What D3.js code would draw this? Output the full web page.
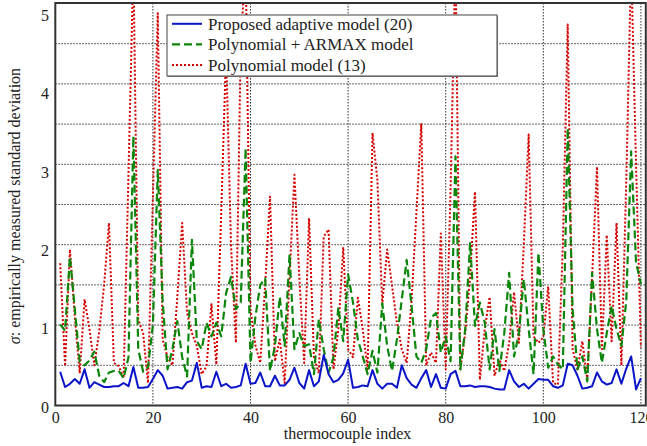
<!DOCTYPE html>
<html><head><meta charset="utf-8">
<script src="https://cdn.jsdelivr.net/npm/d3@7"></script>
<style>
html,body{margin:0;padding:0;background:#fff;}
svg{display:block;}
</style></head>
<body>
<svg id="chart" width="647" height="446"></svg>
<script>
const xTicks = [0, 20, 40, 60, 80, 100, 120];
const yTicks = [0, 1, 2, 3, 4, 5];
const yGrid = [0.5, 1, 1.5, 2, 2.5, 3, 3.5, 4, 4.5];
const seriesNames = ["Proposed adaptive model (20)", "Polynomial + ARMAX model", "Polynomial model (13)"];

const adaptive = [0.42,0.23,0.27,0.33,0.27,0.45,0.22,0.29,0.26,0.23,
0.23,0.24,0.24,0.28,0.24,0.48,0.22,0.22,0.23,0.33,
0.44,0.37,0.21,0.22,0.23,0.21,0.29,0.31,0.53,0.22,
0.24,0.23,0.42,0.24,0.27,0.22,0.23,0.25,0.52,0.27,
0.28,0.41,0.24,0.24,0.37,0.25,0.25,0.32,0.47,0.28,
0.21,0.44,0.24,0.30,0.63,0.39,0.29,0.32,0.40,0.57,
0.22,0.23,0.25,0.24,0.44,0.27,0.21,0.27,0.27,0.22,
0.50,0.34,0.26,0.22,0.34,0.44,0.23,0.39,0.22,0.21,
0.39,0.43,0.24,0.24,0.25,0.23,0.24,0.24,0.23,0.21,
0.20,0.20,0.44,0.30,0.23,0.27,0.21,0.27,0.33,0.32,
0.32,0.24,0.22,0.25,0.52,0.50,0.37,0.21,0.22,0.24,
0.41,0.30,0.26,0.28,0.45,0.27,0.46,0.61,0.20,0.34];

const armax = [1.01,0.93,1.85,1.2,0.55,0.5,0.56,0.67,0.37,0.29,
0.41,0.43,0.43,0.34,0.6,3.35,0.7,0.42,0.48,1.0,
2.93,1.3,0.45,0.7,1.05,0.6,0.36,2.06,0.8,0.7,
1.03,0.86,1.03,0.86,1.4,1.6,1.2,1.28,3.2,0.53,
1.1,1.5,1.58,0.43,0.74,1.35,0.74,1.88,0.70,0.9,
0.74,0.76,0.39,1.07,0.70,0.41,0.6,1.22,0.8,1.63,
1.28,0.82,0.61,0.39,0.68,0.41,1.27,0.74,0.43,0.82,
1.32,1.81,1.24,0.61,0.53,0.70,1.09,1.15,0.66,0.86,
0.55,3.1,0.45,0.95,2.02,0.99,1.28,1.03,0.45,0.95,
0.43,0.9,1.65,0.61,0.9,1.57,0.95,0.39,1.9,0.95,
0.47,0.61,0.51,0.45,3.45,1.2,0.45,0.61,0.30,1.65,
0.95,0.53,0.9,1.24,0.95,0.74,1.3,3.16,1.78,1.51];

const poly = [1.77,0.49,1.94,1.1,0.4,1.32,0.95,0.5,0.92,1.5,
2.27,0.53,0.49,0.34,2.9,5.5,1.07,0.9,0.28,2.6,
4.88,0.82,0.6,0.5,1.35,2.27,1.15,0.9,0.74,0.39,
0.49,1.26,0.51,2.4,4.4,2.0,0.78,4.5,5.5,1.2,
0.75,0.53,1.5,2.6,0.55,0.82,0.28,1.6,2.87,1.6,
0.53,2.33,0.6,0.4,2.1,2.19,0.45,0.95,1.97,0.7,
0.6,1.34,0.95,0.45,3.39,2.8,1.26,1.94,1.49,1.03,
0.70,0.53,1.3,2.4,3.51,0.5,0.66,0.53,2.14,0.45,
2.7,5.6,0.45,0.9,1.6,2.66,0.32,0.95,1.35,0.37,
0.57,0.43,0.78,1.41,0.78,2.0,3.37,0.86,0.78,0.85,
1.48,0.28,0.26,2.0,4.74,0.7,0.45,0.8,0.32,1.6,
2.97,0.7,2.12,0.8,2.27,0.5,2.8,5.5,3.0,0.72];

const FONT = "'Liberation Serif', 'DejaVu Serif', serif";
const svg = d3.select("#chart");
const L = 55.3, R = 645.8, T = 3, B = 405.5;
const x = d3.scaleLinear().domain([0, 121]).range([L, R]);
const y = d3.scaleLinear().domain([0, 5]).range([B, T + 0.5]);
const yLab = d3.scaleLinear().domain([0, 5]).range([407, 15.5]);

svg.append("rect").attr("x",0).attr("y",0).attr("width",647).attr("height",446).attr("fill","#fff");

const grid = svg.append("g").attr("stroke","#333").attr("stroke-width",1).attr("stroke-dasharray","1.5,1.5");
grid.selectAll("line.gx").data(xTicks.filter(d=>d>0)).join("line")
  .attr("x1",d=>x(d)).attr("x2",d=>x(d)).attr("y1",T).attr("y2",B);
grid.selectAll("line.gy").data(yGrid).join("line")
  .attr("x1",L).attr("x2",R).attr("y1",d=>y(d)).attr("y2",d=>y(d));

svg.append("clipPath").attr("id","clip").append("rect")
  .attr("x",L).attr("y",T).attr("width",R-L).attr("height",B-T);

const line = d3.line().x((d,i)=>x(i+1)).y(d=>y(d));
const plot = svg.append("g").attr("clip-path","url(#clip)");
const styles = [
  {data: adaptive, color:"#0a14c8", dash:null, w:2},
  {data: armax, color:"#0a870a", dash:"8,4", w:2.2},
  {data: poly, color:"#d40000", dash:"2,2", w:2}
];
[styles[2], styles[1], styles[0]].forEach(s=>{
  plot.append("path").datum(s.data).attr("d",line)
    .attr("fill","none").attr("stroke",s.color).attr("stroke-width",s.w)
    .attr("stroke-dasharray",s.dash).attr("stroke-linejoin","round");
});

svg.append("rect").attr("x",L).attr("y",T).attr("width",R-L).attr("height",B-T)
  .attr("fill","none").attr("stroke","#333").attr("stroke-width",2);

const xAxis = d3.axisBottom(x).tickValues(xTicks).tickFormat(d3.format("d")).tickSize(0).tickPadding(6);
const gx = svg.append("g").attr("transform",`translate(0,${B})`).call(xAxis);
gx.select(".domain").remove();

const yAxis = d3.axisLeft(yLab).tickValues(yTicks).tickFormat(d3.format("d")).tickSize(0).tickPadding(0);
const gy = svg.append("g").attr("transform",`translate(49,0)`).call(yAxis);
gy.select(".domain").remove();

const xl = svg.append("text").attr("x",(L+R)/2 - 3).attr("y",439).attr("text-anchor","middle")
  .text("thermocouple index");

const yl = svg.append("text").attr("transform","translate(20,206) rotate(-90)")
  .attr("text-anchor","middle");
yl.append("tspan").style("font-style","italic").text("σ");
yl.append("tspan").text(": empirically measured standard deviation");

const lg = svg.append("g");
lg.append("rect").attr("x",168).attr("y",16).attr("width",330).attr("height",61).attr("fill","#888");
lg.append("rect").attr("x",167).attr("y",15).attr("width",330).attr("height",61)
  .attr("fill","#fff").attr("stroke","#444").attr("stroke-width",1);
const rows = [23.8, 44.3, 65];
const legendTexts = [];
styles.forEach((s,k)=>{
  lg.append("line").attr("x1",172).attr("x2",202).attr("y1",rows[k]).attr("y2",rows[k])
    .attr("stroke",s.color).attr("stroke-width",s.w).attr("stroke-dasharray",s.dash);
  legendTexts.push(lg.append("text").attr("x",208).attr("y",rows[k]).attr("dy","0.35em").text(seriesNames[k]));
});

svg.selectAll("g").attr("font-family", null);
svg.selectAll("text").style("font-family", FONT).style("font-size","16px").attr("fill","#222");
legendTexts.forEach(t=>t.style("font-size","17px"));
</script>
</body></html>
